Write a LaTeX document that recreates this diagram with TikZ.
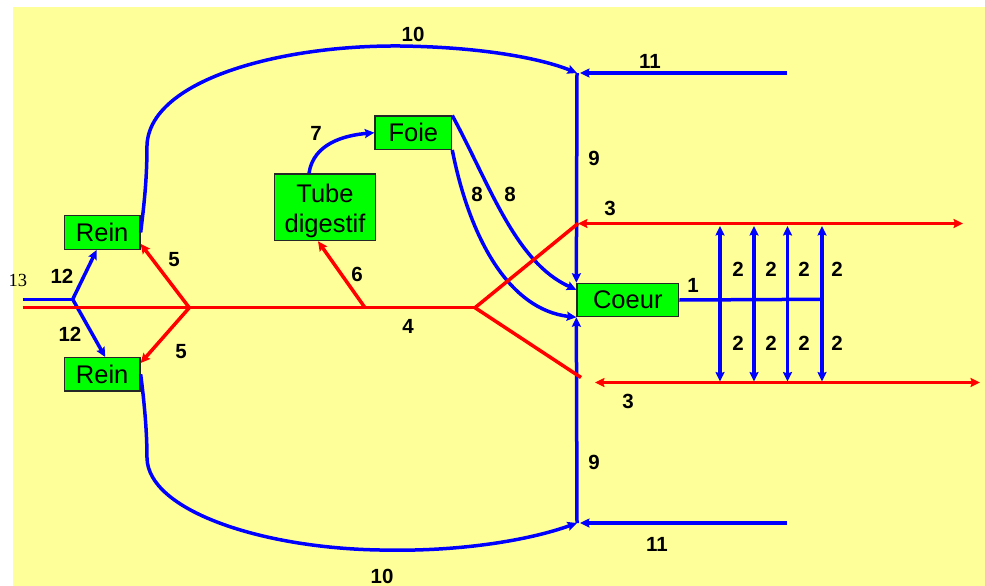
\documentclass[tikz,border=0pt]{standalone}
\usepackage{fontspec}
\setmainfont{Liberation Sans}
\newfontfamily\seriffont{Liberation Serif}
\usetikzlibrary{arrows.meta}
\definecolor{paper}{HTML}{FFFF99}
\definecolor{organ}{HTML}{00FF00}
\definecolor{vein}{HTML}{0000FF}
\definecolor{artery}{HTML}{FF0000}
\begin{document}
\begin{tikzpicture}[x=1pt,y=-1pt,
  >={Stealth[length=9.5pt,width=9pt,inset=1.5pt]},
  organbox/.style={draw=black!85, line width=1.2pt, fill=organ, inner sep=0pt,
    font=\fontsize{25.5}{30}\selectfont, text=black},
  num/.style={font=\fontsize{20.5}{20.5}\selectfont\bfseries, inner sep=0pt},
  bl/.style={draw=vein, line width=3.5pt},
  rd/.style={draw=artery, line width=3.5pt},
]
\useasboundingbox (0,0) rectangle (985,586);
\fill[white] (0,0) rectangle (985,586);
\fill[paper] (13,7) rectangle (985,586);

% organs
\node[organbox, minimum width=75.7pt, minimum height=33.6pt] (reinA) at (102.2,232.5) {Rein};
\node[organbox, minimum width=75.7pt, minimum height=33.4pt] (reinB) at (102.2,374.3) {Rein};
\node[organbox, minimum width=101.4pt, minimum height=66.7pt] (tube) at (325,207.3) {};
\node[font=\fontsize{25.5}{30}\selectfont, align=center, inner sep=0pt] (tubetext)
  at ([yshift=-3.4pt]tube.center) {Tube\\digestif};
\node[organbox, minimum width=76.7pt, minimum height=33.3pt] (foie) at (413.3,132.7) {Foie};
\node[organbox, minimum width=101.7pt, minimum height=33.3pt] (coeur) at (627.8,300) {Coeur};

% junctions and free ends
\coordinate (b13) at (22.7,299.3);
\coordinate (j12) at (72.7,299.3);
\coordinate (r0) at (22.7,307.7);
\coordinate (r5) at (189.3,307.7);
\coordinate (r6) at (365,307.7);
\coordinate (r4) at (475,307.7);
\coordinate (r3a) at (578,223.5);
\coordinate (r3aR) at (963,223.5);
\coordinate (r3b) at (581,377.5);
\coordinate (r3bL) at (595,382.5);
\coordinate (r3bR) at (980,382.5);
\coordinate (v9a) at (577,73);
\coordinate (v9b) at (577,523);
\coordinate (v11a) at (787,73);
\coordinate (v11b) at (787,523);
\coordinate (h1) at (822,299.3);

% blue vessels
\draw[bl] (b13) -- (j12);
\draw[bl,->] (j12) -- ([xshift=-5.5pt]reinA.south);
\draw[bl,->] (j12) -- ([xshift=3pt]reinB.north);

\draw[bl,->] (reinA.east) .. controls (144,205) and (147,180) .. (147,145)
  .. controls (150,80) and (280,45) .. (400,46)
  .. controls (480,47) and (540,58) .. (v9a);
\draw[bl,->] (reinB.east) .. controls (144,400) and (147,430) .. (147,458)
  .. controls (148,510) and (260,548) .. (380,550)
  .. controls (460,552) and (530,540) .. (v9b);

\draw[bl,->] (v11a) -- ([xshift=3pt]v9a);
\draw[bl,->] (v11b) -- ([xshift=3pt]v9b);
\draw[bl,->] (v9a) -- (coeur.north west);
\draw[bl,->] (v9b) -- (coeur.south west);

\draw[bl,->] ([xshift=-16pt]tube.north) to[out=82,in=185] (foie.west);
\draw[bl,->] (foie.north east) .. controls (490,185) and (515,262) .. ([yshift=-7pt]coeur.north west);
\draw[bl,->] (foie.south east) .. controls (470,240) and (510,310) .. (coeur.south west);

\draw[bl] (coeur.east) -- (h1);
\foreach \k/\x in {1/720,2/754,3/787.5,4/822}{
  \coordinate (up\k) at (\x,226);
  \coordinate (dn\k) at (\x,381.5);
  \draw[bl,<->] (up\k) -- (dn\k);
}

% red vessels
\draw[rd] (r0) -- (r4);
\draw[rd,->] (r5) -- ([yshift=6pt]reinA.south east);
\draw[rd,->] (r5) -- ([yshift=-6pt]reinB.north east);
\draw[rd,->] (r6) -- ([xshift=-7pt]tube.south);
\draw[rd] (r4) -- (r3a);
\draw[rd] (r4) -- (r3b);
\draw[rd,<->] (r3a) -- (r3aR);
\draw[rd,<->] (r3bL) -- (r3bR);

% numbers
\node[font=\seriffont\fontsize{18.5}{18.5}\selectfont, inner sep=0pt] (n13) at (17.8,280) {13};
\node[num] (n12a) at (62,276) {12};
\node[num] (n12b) at (70,334) {12};
\node[num] (n5a) at (174,260) {5};
\node[num] (n5b) at (181,352) {5};
\node[num] (n6) at (357,274) {6};
\node[num] (n4) at (408,326) {4};
\node[num] (n7) at (316,133) {7};
\node[num] (n8a) at (477,194) {8};
\node[num] (n8b) at (510,194) {8};
\node[num] (n10a) at (413,34) {10};
\node[num] (n10b) at (382,576) {10};
\node[num] (n11a) at (650,61) {11};
\node[num] (n11b) at (657,544) {11};
\node[num] (n9a) at (594,158) {9};
\node[num] (n9b) at (594,462) {9};
\node[num] (n3a) at (610,208) {3};
\node[num] (n3b) at (628,401) {3};
\node[num] (n1) at (693,285) {1};
\foreach \k/\x in {1/738,2/771,3/804,4/837}{
  \node[num] (t2\k) at (\x,269) {2};
  \node[num] (b2\k) at (\x,343) {2};
}
\end{tikzpicture}
\end{document}
